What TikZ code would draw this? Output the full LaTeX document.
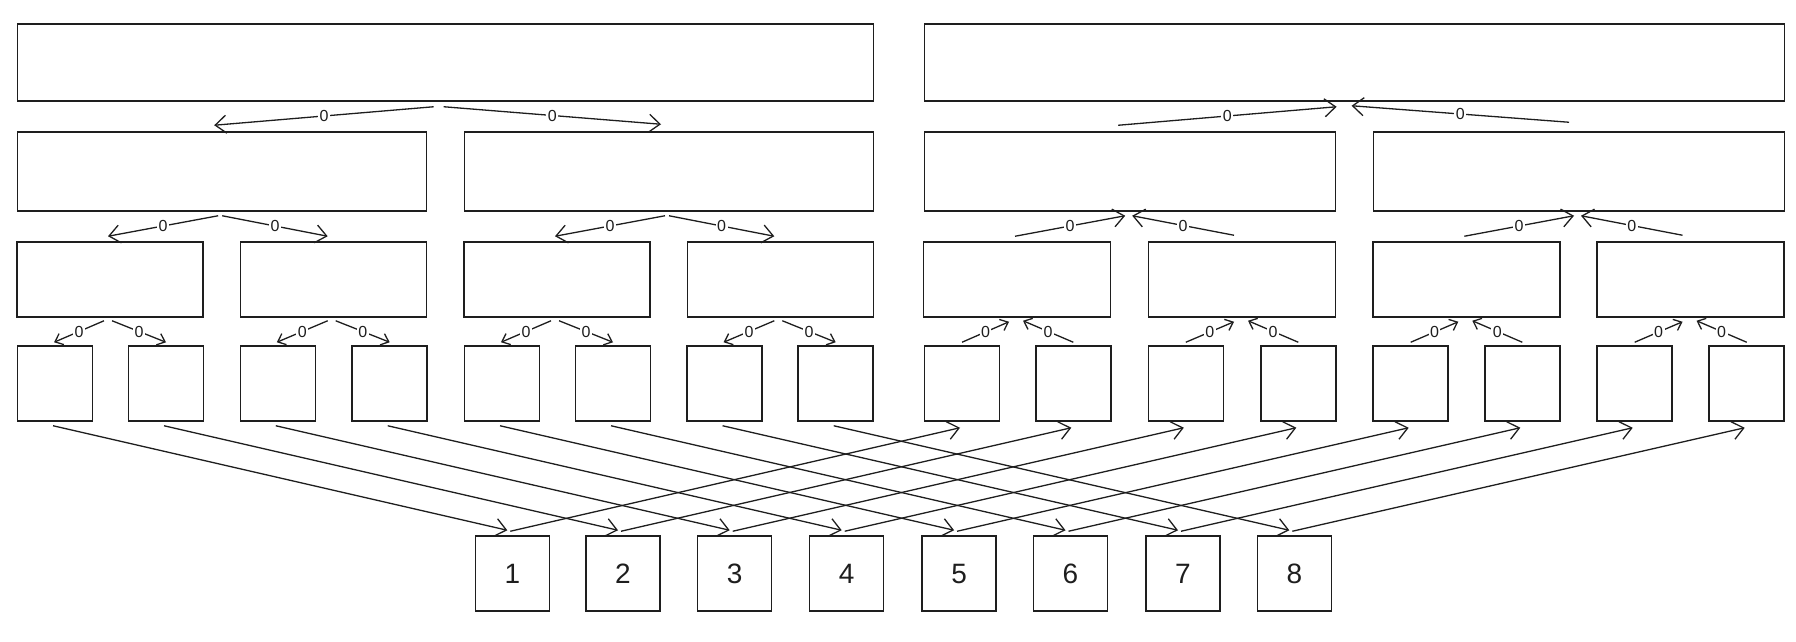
\documentclass[tikz,border=0pt]{standalone}
\usepackage{fontspec}
\setmainfont{Liberation Sans}
\usetikzlibrary{arrows.meta,calc}
\definecolor{ink}{HTML}{1E1E1E}
\tikzset{
  box/.style={draw=ink, line width=1.5pt, fill=white, inner sep=0pt, rectangle},
  conn/.style={draw=ink, line width=1.3pt, -{Straight Barb[length=11pt,width=18pt,line width=1.3pt]}},
  sconn/.style={draw=ink, line width=1.3pt, -{Straight Barb[length=7pt,width=12pt,line width=1.3pt]}},
  lbl/.style={midway, fill=white, inner sep=1.5pt, font=\fontsize{16}{16}\selectfont, text=ink},
  num/.style={font=\fontsize{28}{28}\selectfont, text=ink}
}
\begin{document}
\begin{tikzpicture}[x=1pt,y=-1pt]
\useasboundingbox (0,0) rectangle (1796,642);
% level 1
\node[box, minimum width=856pt, minimum height=77pt] (G) at (445.7,62.5) {};
\node[box, minimum width=860pt, minimum height=77pt] (H) at (1354.6,62.5) {};
% level 2
\node[box, minimum width=409pt, minimum height=79pt] (E1) at (222.2,171.5) {};
\node[box, minimum width=409pt, minimum height=79pt] (E2) at (669,171.5) {};
\node[box, minimum width=411pt, minimum height=79pt] (F1) at (1130.2,171.5) {};
\node[box, minimum width=411pt, minimum height=79pt] (F2) at (1579,171.5) {};
% level 3
\foreach \n/\x in {1/110,2/333.7,3/557,4/780.3}
  \node[box, minimum width=186pt, minimum height=75pt] (C\n) at (\x,279.5) {};
\foreach \n/\x in {1/1017,2/1242,3/1466.3,4/1690.5}
  \node[box, minimum width=187pt, minimum height=75pt] (D\n) at (\x,279.5) {};
% level 4
\foreach \n/\x in {1/55.1,2/166,3/277.8,4/389.7,5/502,6/613,7/724.6,8/835.7}
  \node[box, minimum width=75pt, minimum height=75pt] (A\n) at (\x,383.5) {};
\foreach \n/\x in {1/962,2/1073.3,3/1185.8,4/1298.3,5/1410.7,6/1522.3,7/1634.7,8/1746.7}
  \node[box, minimum width=75pt, minimum height=75pt] (B\n) at (\x,383.5) {};
% bottom numbered boxes
\foreach \n/\x in {1/512.3,2/623,3/734.7,4/846.7,5/959.1,6/1070.5,7/1183,8/1294.3}
  \node[box, num, minimum width=74pt, minimum height=75pt] (N\n) at (\x,573.5) {\n};

% left tree (downward)
\draw[conn] ($(G.south)+(-12,5)$) -- node[lbl]{0} ($(E1.north)+(-8,-6)$);
\draw[conn] ($(G.south)+(-2,5)$) -- node[lbl]{0} ($(E2.north)+(-8,-7)$);
\foreach \p/\l/\r in {E1/C1/C2,E2/C3/C4}{
  \draw[conn] ($(\p.south)+(-4,4)$) -- node[lbl]{0} ($(\l.north)+(-2,-5)$);
  \draw[conn] ($(\p.south)+(0,4)$) -- node[lbl]{0} ($(\r.north)+(-6,-5)$);
}
\foreach \p/\l/\r in {C1/A1/A2,C2/A3/A4,C3/A5/A6,C4/A7/A8}{
  \draw[sconn] ($(\p.south)+(-6,3)$) -- node[lbl]{0} ($(\l.north)+(-1,-3)$);
  \draw[sconn] ($(\p.south)+(2,3)$) -- node[lbl]{0} ($(\r.north)+(0,-3)$);
}
% right tree (upward)
\draw[conn] ($(F1.north)+(-12,-6)$) -- node[lbl]{0} ($(H.south)+(-18,5)$);
\draw[conn] ($(F2.north)+(-10,-9)$) -- node[lbl]{0} ($(H.south)+(-3,4)$);
\foreach \p/\l/\r in {F1/D1/D2,F2/D3/D4}{
  \draw[conn] ($(\l.north)+(-2,-5)$) -- node[lbl]{0} ($(\p.south)+(-5,4)$);
  \draw[conn] ($(\r.north)+(-8,-6)$) -- node[lbl]{0} ($(\p.south)+(2,4)$);
}
\foreach \p/\l/\r in {D1/B1/B2,D2/B3/B4,D3/B5/B6,D4/B7/B8}{
  \draw[sconn] ($(\l.north)+(0,-3)$) -- node[lbl]{0} ($(\p.south)+(-8,4)$);
  \draw[sconn] ($(\r.north)+(0,-3)$) -- node[lbl]{0} ($(\p.south)+(6,3)$);
}
% crossing connectors
\foreach \i in {1,...,8}{
  \draw[conn] ($(A\i.south)+(-2,4)$) -- ($(N\i.north)+(-5,-5)$);
  \draw[conn] ($(N\i.north)+(-2,-4)$) -- ($(B\i.south)+(-2,6)$);
}
\end{tikzpicture}
\end{document}
